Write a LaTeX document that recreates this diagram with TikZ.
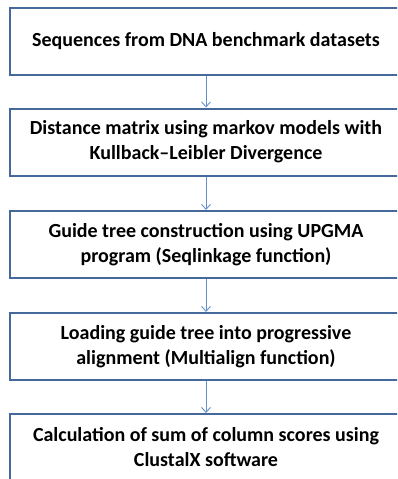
\documentclass[tikz,border=0pt]{standalone}
\usepackage{fontspec}
\setmainfont{Carlito}
\usetikzlibrary{arrows.meta,positioning}
\definecolor{boxblue}{RGB}{70,105,155}
\definecolor{arrblue}{RGB}{100,145,205}

\begin{document}
\begin{tikzpicture}[x=1pt, y=-1pt,
    stepbox/.style={rectangle, draw=boxblue, line width=2pt, minimum width=392pt,
        minimum height=67pt, align=center, font=\fontsize{20}{25}\selectfont\bfseries},
    arr/.style={-{Straight Barb[length=5pt, width=9pt]}, arrblue, line width=0.9pt}]

    \clip (0,0) rectangle (397,479);
    \useasboundingbox (0,0) rectangle (397,479);

    % Steps
    \foreach \i/\y/\txt in {
        1/41/{Sequences from DNA benchmark datasets},
        2/142/{Distance matrix using markov models with\\Kullback--Leibler Divergence},
        3/244.5/{Guide tree construction using UPGMA\\program (Seqlinkage function)},
        4/346.5/{Loading guide tree into progressive\\alignment (Multialign function)},
        5/447.5/{Calculation of sum of column scores using\\ClustalX software}} {
        \node[stepbox] (s\i) at (206,\y) {\txt};
    }

    % Connections
    \foreach \i [evaluate=\i as \j using int(\i+1)] in {1,2,3,4} {
        \draw[arr] (s\i.south) -- (s\j.north);
    }
\end{tikzpicture}
\end{document}
